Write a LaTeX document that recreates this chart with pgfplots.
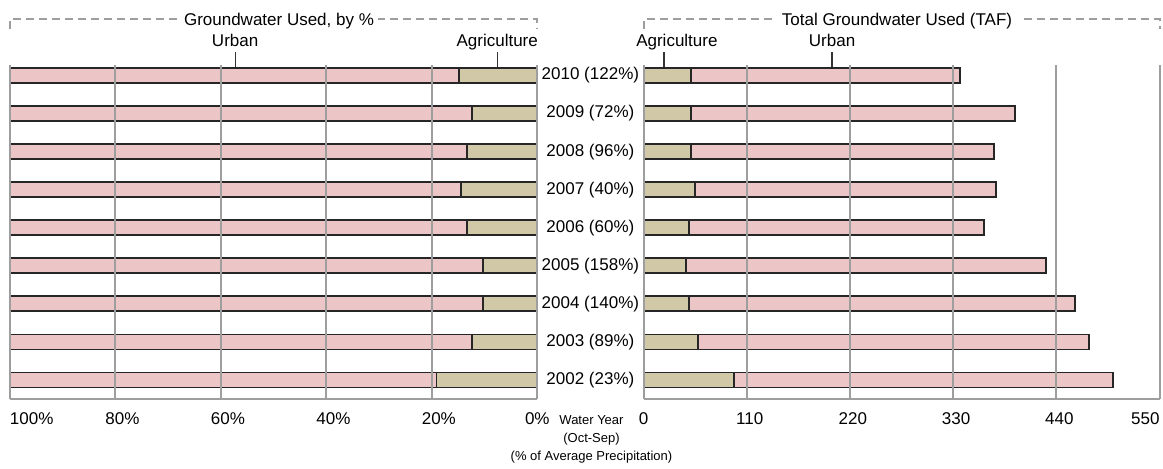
\documentclass[border=0pt]{standalone}
\usepackage{pgfplots}
\usepackage{pgfplotstable}
\pgfplotsset{compat=1.18}
\usepackage{fontspec}
\setmainfont{Liberation Sans}

\definecolor{urb}{RGB}{236,197,198}
\definecolor{agr}{RGB}{208,200,167}
\definecolor{gridc}{RGB}{158,158,158}

% 0 = 2002 ... 8 = 2010
\pgfplotstableread{
y agr urb
0 19.1 80.9
1 12.4 87.6
2 10.3 89.7
3 10.3 89.7
4 13.4 86.6
5 14.5 85.5
6 13.4 86.6
7 12.4 87.6
8 14.8 85.2
}\pctdata

\pgfplotstableread{
y agr urb
0 96.2 404.0
1 58.1 416.5
2 48.8 411.2
3 45.0 384.1
4 48.8 313.9
5 54.6 321.5
6 50.3 323.7
7 50.3 346.1
8 50.3 287.1
}\tafdata

\pgfplotsset{
  panel/.style={
    scale only axis,
    height=166.75pt,
    ymin=-0.486, ymax=8.276,
    xbar stacked,
    bar width=7.5pt,
    axis x line*=bottom,
    axis y line*=box,
    axis line style={gridc, line width=1pt, -},
    xmajorgrids,
    major grid style={gridc, line width=1pt},
    major tick length=0pt,
    tick label style={font=\fontsize{8.5}{10}\selectfont},
    xticklabel style={yshift=-3.4pt},
    axis on top,
    clip=false,
  },
}

\begin{document}
\begin{tikzpicture}
\path[use as bounding box] (-5pt,-34.75pt) rectangle (576.5pt,199.25pt);

\begin{axis}[panel,
  at={(0,0)}, anchor=south west,
  width=263.65pt,
  x dir=reverse,
  xmin=0, xmax=100,
  xtick={0,20,40,60,80,100},
  xticklabels={0\%, \hspace*{7pt}20\%, \hspace*{7pt}40\%, \hspace*{7pt}60\%, \hspace*{7pt}80\%, \rlap{100\%}},
  ytick={0,...,8},
  yticklabels={2002 (23\%), 2003 (89\%), 2004 (140\%), 2005 (158\%), 2006 (60\%), 2007 (40\%), 2008 (96\%), 2009 (72\%), 2010 (122\%)},
  yticklabel pos=right,
  yticklabel style={anchor=center, xshift=26.55pt},
]
\addplot[fill=agr, draw=black!85, line width=0.9pt] table[x=agr, y=y]{\pctdata};
\addplot[fill=urb, draw=black!85, line width=0.9pt] table[x=urb, y=y]{\pctdata};
\draw[black!80, line width=0.6pt] (axis cs:57.3,8) -- (axis cs:57.3,8.617);
\draw[black!80, line width=0.6pt] (axis cs:7.6,8) -- (axis cs:7.6,8.617);
\node[anchor=base, font=\fontsize{8.5}{10}\selectfont] at (axis cs:57.3,8.75) {Urban};
\node[anchor=base, font=\fontsize{8.5}{10}\selectfont] at (axis cs:7.6,8.75) {Agriculture};
\end{axis}

\begin{axis}[panel,
  at={(316.75pt,0)}, anchor=south west,
  width=258pt,
  xmin=0, xmax=550,
  xtick={0,110,220,330,440,550},
  xticklabels={0, \hspace*{3pt}110, \hspace*{3pt}220, \hspace*{3pt}330, \hspace*{3pt}440, \llap{550}},
  ytick=\empty,
]
\addplot[fill=agr, draw=black!85, line width=0.9pt] table[x=agr, y=y]{\tafdata};
\addplot[fill=urb, draw=black!85, line width=0.9pt] table[x=urb, y=y]{\tafdata};
\draw[black!80, line width=0.6pt] (axis cs:21.9,8) -- (axis cs:21.9,8.617);
\draw[black!80, line width=0.6pt] (axis cs:201,8) -- (axis cs:201,8.617);
\node[anchor=base, font=\fontsize{8.5}{10}\selectfont] at (axis cs:35.6,8.75) {Agriculture};
\node[anchor=base, font=\fontsize{8.5}{10}\selectfont] at (axis cs:201,8.75) {Urban};
\end{axis}

% dashed brackets with panel titles
\draw[gridc, line width=1pt, dash pattern=on 4pt off 2.5pt]
  (0,184.75pt) -- (0,189.75pt) -- (263.65pt,189.75pt) -- (263.65pt,184.75pt);
\draw[gridc, line width=1pt, dash pattern=on 4pt off 2.5pt]
  (316.75pt,184.75pt) -- (316.75pt,189.75pt) -- (574.75pt,189.75pt) -- (574.75pt,184.75pt);
\node[anchor=base, fill=white, inner xsep=2pt, inner ysep=1pt, font=\fontsize{8.5}{10}\selectfont]
  at (134.5pt,186.75pt) {Groundwater Used, by \%};
\node[anchor=base, fill=white, inner xsep=5pt, inner ysep=1pt, font=\fontsize{8.5}{10}\selectfont]
  at (443.5pt,186.75pt) {Total Groundwater Used (TAF)};

\node[anchor=north, align=center, inner sep=0pt, font=\fontsize{6.5}{9}\selectfont]
  at (290.75pt,-8.5pt) {Water Year\\(Oct-Sep)\\(\% of Average Precipitation)};
\end{tikzpicture}
\end{document}
